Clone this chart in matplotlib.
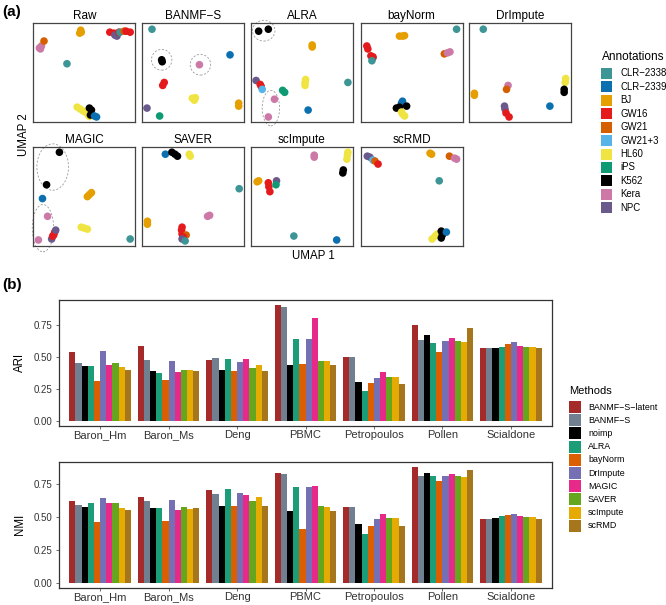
# -*- coding: utf-8 -*-
"""
UMAP panels of the cell line data (a) and ARI / NMI bars per method (b).
"""

import numpy as np
import matplotlib
matplotlib.use('Agg')
import matplotlib.pyplot as plt
from matplotlib.patches import Ellipse, Rectangle

plt.rcParams['font.family'] = ['Liberation Sans', 'DejaVu Sans']

W, H = 666, 605

# ---- panel (a) data: cluster positions (axes fraction) per method ----
cell_types = ['CLR-2338', 'CLR-2339', 'BJ', 'GW16', 'GW21', 'GW21+3',
              'HL60', 'iPS', 'K562', 'Kera', 'NPC']
cell_colors = ['#3D9595', '#0B6FB0', '#E69F00', '#E41A1C', '#D55E00', '#56B4E9',
               '#F0E442', '#0E9A72', '#000000', '#CC79A7', '#6A5A8C']

raw_pts = [('Kera', 0.06, 0.75), ('Kera', 0.08, 0.77), ('Kera', 0.07, 0.74),
           ('GW21', 0.105, 0.82),
           ('BJ', 0.455, 0.90), ('BJ', 0.465, 0.93), ('BJ', 0.47, 0.91),
           ('CLR-2338', 0.33, 0.59),
           ('GW16', 0.75, 0.91), ('GW16', 0.79, 0.90), ('NPC', 0.80, 0.88),
           ('NPC', 0.82, 0.87), ('GW16', 0.84, 0.91), ('CLR-2338', 0.85, 0.91),
           ('GW21', 0.89, 0.92), ('GW16', 0.91, 0.92), ('GW16', 0.95, 0.91),
           ('HL60', 0.43, 0.15), ('HL60', 0.46, 0.13), ('HL60', 0.49, 0.11),
           ('HL60', 0.52, 0.09), ('HL60', 0.54, 0.07), ('HL60', 0.55, 0.055),
           ('K562', 0.55, 0.14), ('K562', 0.57, 0.12), ('K562', 0.56, 0.07),
           ('CLR-2339', 0.60, 0.06), ('CLR-2339', 0.62, 0.05)]

banmf_pts = [('CLR-2338', 0.095, 0.94),
             ('K562', 0.19, 0.63), ('K562', 0.195, 0.61),
             ('Kera', 0.56, 0.58),
             ('CLR-2339', 0.86, 0.68),
             ('GW16', 0.20, 0.37), ('GW16', 0.215, 0.40),
             ('HL60', 0.49, 0.24), ('HL60', 0.52, 0.245), ('HL60', 0.51, 0.22),
             ('BJ', 0.945, 0.16), ('BJ', 0.945, 0.19),
             ('NPC', 0.046, 0.14),
             ('iPS', 0.17, 0.06)]

alra_pts = [('K562', 0.075, 0.92), ('K562', 0.17, 0.94),
            ('BJ', 0.60, 0.76), ('BJ', 0.60, 0.78),
            ('NPC', 0.05, 0.42),
            ('GW16', 0.09, 0.38), ('GW16', 0.10, 0.36),
            ('GW21+3', 0.11, 0.33),
            ('iPS', 0.31, 0.32), ('iPS', 0.33, 0.30),
            ('HL60', 0.53, 0.37), ('HL60', 0.53, 0.40), ('HL60', 0.535, 0.43),
            ('Kera', 0.23, 0.23), ('Kera', 0.17, 0.05),
            ('CLR-2339', 0.56, 0.12),
            ('CLR-2338', 0.95, 0.40)]

baynorm_pts = [('BJ', 0.38, 0.87), ('BJ', 0.41, 0.87), ('BJ', 0.43, 0.875),
               ('CLR-2338', 0.94, 0.94),
               ('GW16', 0.06, 0.77), ('GW16', 0.07, 0.74), ('GW16', 0.10, 0.67),
               ('NPC', 0.12, 0.65), ('GW16', 0.12, 0.66), ('CLR-2338', 0.11, 0.62),
               ('GW21', 0.82, 0.69), ('Kera', 0.85, 0.70), ('Kera', 0.875, 0.71),
               ('CLR-2339', 0.41, 0.21), ('CLR-2339', 0.40, 0.19),
               ('K562', 0.35, 0.14), ('K562', 0.38, 0.15), ('K562', 0.45, 0.16),
               ('HL60', 0.41, 0.08), ('HL60', 0.43, 0.06), ('HL60', 0.40, 0.10)]

drimpute_pts = [('CLR-2338', 0.137, 0.94),
                ('HL60', 0.945, 0.44), ('HL60', 0.94, 0.40),
                ('K562', 0.93, 0.33), ('K562', 0.93, 0.30),
                ('Kera', 0.38, 0.37), ('GW21', 0.365, 0.33),
                ('BJ', 0.05, 0.29), ('BJ', 0.05, 0.27),
                ('CLR-2339', 0.79, 0.16),
                ('NPC', 0.345, 0.16), ('NPC', 0.35, 0.13),
                ('GW16', 0.36, 0.09), ('GW16', 0.39, 0.05)]

magic_pts = [('K562', 0.256, 0.95), ('K562', 0.13, 0.62),
             ('CLR-2339', 0.09, 0.48),
             ('BJ', 0.53, 0.50), ('BJ', 0.55, 0.52), ('BJ', 0.57, 0.54),
             ('HL60', 0.47, 0.19), ('HL60', 0.50, 0.18), ('HL60', 0.53, 0.17),
             ('Kera', 0.14, 0.30), ('Kera', 0.05, 0.06),
             ('NPC', 0.18, 0.07), ('GW16', 0.19, 0.10), ('GW16', 0.20, 0.11),
             ('GW16', 0.21, 0.14), ('NPC', 0.22, 0.16),
             ('CLR-2338', 0.95, 0.07)]

saver_pts = [('CLR-2339', 0.226, 0.93),
             ('K562', 0.29, 0.95), ('K562', 0.32, 0.93), ('K562', 0.345, 0.91),
             ('HL60', 0.46, 0.93), ('HL60', 0.47, 0.91),
             ('CLR-2338', 0.95, 0.58),
             ('BJ', 0.05, 0.25), ('BJ', 0.05, 0.22),
             ('Kera', 0.64, 0.30), ('Kera', 0.66, 0.31),
             ('GW16', 0.39, 0.19), ('GW16', 0.385, 0.16), ('GW16', 0.39, 0.12),
             ('GW21', 0.43, 0.11), ('GW16', 0.40, 0.09), ('NPC', 0.39, 0.07),
             ('CLR-2338', 0.42, 0.05)]

scimpute_pts = [('Kera', 0.62, 0.90), ('Kera', 0.62, 0.92),
                ('BJ', 0.06, 0.65), ('BJ', 0.075, 0.66),
                ('GW16', 0.17, 0.64), ('GW16', 0.175, 0.60), ('GW16', 0.185, 0.55),
                ('NPC', 0.25, 0.66), ('iPS', 0.245, 0.62),
                ('CLR-2338', 0.42, 0.10),
                ('CLR-2339', 0.84, 0.06),
                ('HL60', 0.94, 0.88), ('HL60', 0.945, 0.92), ('HL60', 0.95, 0.95),
                ('K562', 0.90, 0.74), ('K562', 0.905, 0.77)]

scrmd_pts = [('NPC', 0.065, 0.91), ('NPC', 0.09, 0.90), ('GW21+3', 0.12, 0.87),
             ('GW21', 0.14, 0.86), ('GW16', 0.17, 0.83),
             ('BJ', 0.68, 0.94), ('BJ', 0.695, 0.93),
             ('GW21', 0.87, 0.91), ('Kera', 0.92, 0.89), ('Kera', 0.94, 0.88),
             ('CLR-2338', 0.77, 0.66),
             ('HL60', 0.70, 0.07), ('HL60', 0.73, 0.10), ('HL60', 0.75, 0.12),
             ('K562', 0.79, 0.15), ('K562', 0.80, 0.11), ('K562', 0.79, 0.08),
             ('CLR-2339', 0.84, 0.14)]

umap_titles = ['Raw', 'BANMF-S', 'ALRA', 'bayNorm', 'DrImpute',
               'MAGIC', 'SAVER', 'scImpute', 'scRMD']
umap_data = [raw_pts, banmf_pts, alra_pts, baynorm_pts, drimpute_pts,
             magic_pts, saver_pts, scimpute_pts, scrmd_pts]

# dashed circles: panel index, centre, width, height
circles = [(1, 0.19, 0.63, 0.20, 0.21), (1, 0.57, 0.58, 0.20, 0.21),
           (2, 0.125, 0.925, 0.22, 0.21), (2, 0.195, 0.14, 0.17, 0.36),
           (5, 0.19, 0.80, 0.31, 0.47), (5, 0.095, 0.18, 0.21, 0.48)]

# ---- panel (b) data ----
datasets = ['Baron_Hm', 'Baron_Ms', 'Deng', 'PBMC', 'Petropoulos', 'Pollen', 'Scialdone']
methods = ['BANMF-S-latent', 'BANMF-S', 'noimp', 'ALRA', 'bayNorm',
           'DrImpute', 'MAGIC', 'SAVER', 'scImpute', 'scRMD']
method_colors = ['#A52A2A', '#708090', '#000000', '#1B9E77', '#D95F02',
                 '#7570B3', '#E7298A', '#66A61E', '#E6AB02', '#A6761D']

# rows = datasets, columns = methods
ari = [[0.534, 0.448, 0.430, 0.430, 0.308, 0.545, 0.435, 0.453, 0.420, 0.396],
       [0.580, 0.477, 0.388, 0.375, 0.318, 0.464, 0.383, 0.396, 0.396, 0.388],
       [0.477, 0.492, 0.400, 0.482, 0.386, 0.456, 0.484, 0.414, 0.435, 0.388],
       [0.901, 0.891, 0.433, 0.641, 0.443, 0.641, 0.805, 0.466, 0.466, 0.433],
       [0.498, 0.494, 0.302, 0.232, 0.294, 0.336, 0.380, 0.344, 0.344, 0.289],
       [0.748, 0.630, 0.670, 0.607, 0.537, 0.620, 0.648, 0.623, 0.615, 0.727],
       [0.568, 0.570, 0.568, 0.576, 0.600, 0.612, 0.584, 0.578, 0.578, 0.570]]

nmi = [[0.623, 0.590, 0.576, 0.603, 0.464, 0.644, 0.608, 0.608, 0.570, 0.553],
       [0.648, 0.623, 0.568, 0.570, 0.472, 0.628, 0.553, 0.578, 0.563, 0.570],
       [0.704, 0.677, 0.580, 0.709, 0.580, 0.680, 0.669, 0.618, 0.654, 0.586],
       [0.833, 0.823, 0.545, 0.724, 0.406, 0.724, 0.735, 0.586, 0.578, 0.545],
       [0.578, 0.578, 0.442, 0.371, 0.432, 0.487, 0.525, 0.490, 0.490, 0.434],
       [0.876, 0.813, 0.833, 0.813, 0.773, 0.813, 0.823, 0.813, 0.805, 0.858],
       [0.480, 0.487, 0.495, 0.505, 0.517, 0.525, 0.507, 0.497, 0.502, 0.482]]


def add_ax(fig, left, top, width, height):
    # positions given in pixels from the top-left corner
    return fig.add_axes([left / W, 1 - (top + height) / H, width / W, height / H])


def fig_text(fig, x, y, s, **kw):
    fig.text(x / W, 1 - y / H, s, **kw)


def fig_key(fig, x, y, w, h, color):
    fig.add_artist(Rectangle((x / W, 1 - (y + h) / H), w / W, h / H,
                             transform=fig.transFigure, fc=color, ec='none'))


def dash(s):
    return s.replace('-', '\u2212')


fig = plt.figure(figsize=(W / 100, H / 100), dpi=100)

# ---- (a) UMAP panels ----
lefts = [33.3, 142.3, 251, 360.7, 469.3]
tops = [23.3, 147.3]
color_of = dict(zip(cell_types, cell_colors))
axes_a = []
for k, (title, pts) in enumerate(zip(umap_titles, umap_data)):
    ax = add_ax(fig, lefts[k % 5], tops[k // 5], 102, 98.6)
    for name, u, v in pts:
        ax.scatter(u, v, s=30, color=color_of[name], edgecolors='none', zorder=3)
    ax.set_xlim(0, 1)
    ax.set_ylim(0, 1)
    ax.set_xticks([])
    ax.set_yticks([])
    for sp in ax.spines.values():
        sp.set_color('#444444')
        sp.set_linewidth(0.9)
    ax.set_title(dash(title), fontsize=8.5, pad=3)
    axes_a.append(ax)

for idx, cx, cy, cw, ch in circles:
    axes_a[idx].add_patch(Ellipse((cx, cy), cw, ch, fill=False, ec='#9A9A9A',
                                  lw=0.6, ls=(0, (2.5, 2)), clip_on=False, zorder=2))

fig_text(fig, 24, 135, 'UMAP 2', fontsize=8.3, rotation=90, ha='center', va='center')
fig_text(fig, 313, 256, 'UMAP 1', fontsize=8.3, ha='center', va='center')
fig_text(fig, 2, 12, '(a)', fontsize=11, fontweight='bold', ha='left', va='center')

fig_text(fig, 602, 57, 'Annotations', fontsize=8.5, ha='left', va='center')
for i, (name, col) in enumerate(zip(cell_types, cell_colors)):
    yc = 73.3 + i * 13.45
    fig_key(fig, 601.3, yc - 5.5, 11, 11, col)
    fig_text(fig, 620.5, yc, dash(name), fontsize=6.9, ha='left', va='center')

# ---- (b) bar charts ----
fig_text(fig, 2, 285, '(b)', fontsize=11, fontweight='bold', ha='left', va='center')

x = np.arange(len(datasets))
bw = 0.09


def bar_panel(ax, vals, ylab):
    vals = np.array(vals)
    for j, m in enumerate(methods):
        ax.bar(x + (j - 4.5) * bw, vals[:, j], width=bw, color=method_colors[j],
               edgecolor='none')
    top = vals.max()
    ax.set_ylim(-0.045 * top, 1.05 * top)
    ax.set_xlim(-0.6, len(datasets) - 0.4)
    ax.set_yticks([0, 0.25, 0.5, 0.75])
    ax.set_yticklabels(['0.00', '0.25', '0.50', '0.75'])
    ax.set_xticks(x)
    ax.set_xticklabels(datasets)
    ax.tick_params(axis='y', labelsize=7, length=2.5, width=0.6, pad=2.5,
                   color='#555555', labelcolor='#333333')
    ax.tick_params(axis='x', labelsize=8, length=2, width=0.6, pad=1,
                   color='#555555', labelcolor='#333333')
    for sp in ax.spines.values():
        sp.set_color('#333333')
        sp.set_linewidth(0.9)
    ax.set_ylabel(ylab, fontsize=8.3, labelpad=5)


ax_ari = add_ax(fig, 59, 299.5, 493, 126.5)
bar_panel(ax_ari, ari, 'ARI')
ax_nmi = add_ax(fig, 59, 461.7, 493, 126)
bar_panel(ax_nmi, nmi, 'NMI')

fig_text(fig, 569, 391, 'Methods', fontsize=8, ha='left', va='center')
for i, (m, col) in enumerate(zip(methods, method_colors)):
    yc = 407 + i * 13.2
    fig_key(fig, 569.3, yc - 6, 11.7, 12, col)
    fig_text(fig, 588, yc, dash(m), fontsize=6.4, ha='left', va='center')

fig.savefig('out.png', dpi=100)
